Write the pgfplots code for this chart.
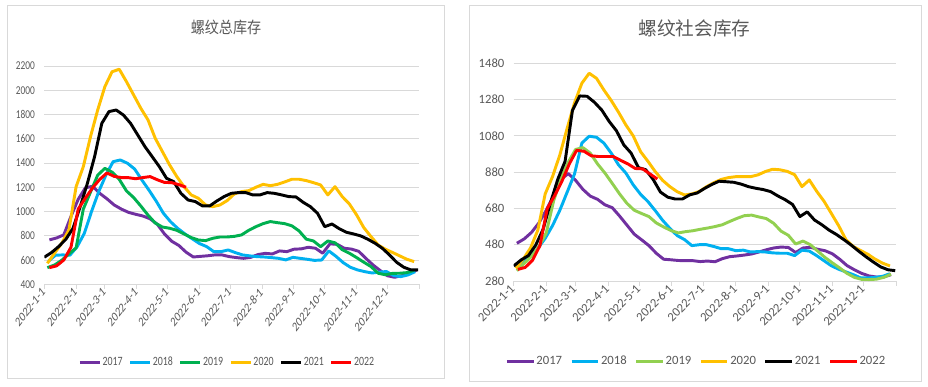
\documentclass[border=0pt]{standalone}
\usepackage{fontspec}
\setmainfont{Carlito}
\newfontfamily\narrowfont[FakeStretch=0.78]{Carlito}
\newfontfamily\cjk{Noto Sans CJK SC}
\newfontfamily\cjknarrow[FakeStretch=0.88]{Noto Sans CJK SC}
\usepackage{pgfplots}
\pgfplotsset{compat=1.18}
\definecolor{c17}{HTML}{7030A0}
\definecolor{c18}{HTML}{00B0F0}
\definecolor{c19a}{HTML}{00B050}
\definecolor{c19b}{HTML}{92D050}
\definecolor{c20}{HTML}{FFC000}
\definecolor{c22}{HTML}{FF0000}
\definecolor{txt}{HTML}{595959}
\definecolor{gridc}{HTML}{D9D9D9}
\pgfplotsset{
  mybase/.style={
    scale only axis,
    xmin=0, xmax=365,
    xtick={0,31,59,90,120,151,181,212,243,273,304,334},
    xticklabels={2022-1-1,2022-2-1,2022-3-1,2022-4-1,2022-5-1,2022-6-1,2022-7-1,2022-8-1,2022-9-1,2022-10-1,2022-11-1,2022-12-1},
    extra x ticks={365}, extra x tick labels={},
    axis x line*=bottom, axis y line*=left,
    y axis line style={draw=none},
    x axis line style={draw=gridc, line width=0.75pt, -},
    tick align=outside,
    major tick length=3.5pt,
    xtick style={draw=gridc, line width=0.75pt},
    ytick style={draw=none},
    ymajorgrids, grid style={draw=gridc, line width=0.75pt},
    scaled y ticks=false,
    /pgf/number format/1000 sep={},
    /pgf/number format/assume math mode=true,
    ticklabel style={text=txt},
    legend columns=6,
    legend cell align=left,
    every axis plot/.append style={line width=2.2pt, line join=round, mark=none},
  }
}
\begin{document}
\begin{tikzpicture}[x=0.75pt,y=0.75pt]
\fill[white] (0,0) rectangle (928,386);
\draw[gridc, line width=0.75pt] (7,8) rectangle (444,380);
\draw[gridc, line width=0.75pt] (469,5) rectangle (921,380);
\node[text=txt, font=\cjknarrow\fontsize{12}{14}\selectfont] at (226,358.5) {螺纹总库存};
\node[text=txt, font=\cjk\fontsize{14}{16}\selectfont] at (694.5,358) {螺纹社会库存};

% ---------------- left panel ----------------
\begin{axis}[mybase,
  at={(33.2pt,76.3pt)}, anchor=south west,
  width=281.25pt, height=163.7pt,
  ymin=400, ymax=2200, ytick={400,600,...,2200},
  yticklabel style={font=\narrowfont\fontsize{9}{10}\selectfont},
  xticklabel style={font=\fontsize{10}{12}\selectfont, xscale=0.77, rotate=45, anchor=east, inner sep=1pt},
  legend style={at={(0.487,-0.358)}, anchor=center, draw=none, fill=none,
    font=\narrowfont\fontsize{9.5}{10}\selectfont, text=txt,
    nodes={inner xsep=1pt},
    /tikz/every odd column/.append style={column sep=0pt},
    /tikz/every even column/.append style={column sep=3.5pt}},
  legend image code/.code={\draw[#1] (0pt,0pt) -- (15pt,0pt);},
]
\addplot[c17] coordinates {(5,766)(12,782)(19,807)(26,960)(33,1100)(40,1195)(47,1208)(54,1150)(61,1105)(68,1054)(75,1020)(82,993)(89,977)(96,963)(103,940)(110,895)(117,815)(124,755)(131,720)(138,665)(145,625)(152,630)(159,635)(166,642)(173,642)(180,628)(187,620)(194,614)(201,622)(208,645)(215,655)(222,650)(229,675)(236,669)(243,689)(250,692)(257,705)(264,697)(271,656)(278,733)(285,730)(292,697)(299,690)(306,672)(313,614)(320,559)(327,513)(334,470)(341,458)(348,470)(355,490)(362,515)};
\addlegendentry{2017}
\addplot[c18] coordinates {(4,590)(11,640)(18,642)(25,640)(32,710)(39,820)(46,1000)(53,1164)(60,1300)(67,1411)(74,1425)(81,1398)(88,1350)(95,1260)(102,1175)(109,1085)(116,985)(123,915)(130,860)(137,815)(144,775)(151,736)(158,711)(165,669)(172,669)(179,683)(186,661)(193,642)(200,634)(207,628)(214,625)(221,620)(228,614)(235,601)(242,622)(249,614)(256,606)(263,597)(270,600)(277,675)(284,630)(291,578)(298,540)(305,518)(312,504)(319,493)(326,500)(333,505)(340,472)(347,463)(354,477)(361,504)};
\addlegendentry{2018}
\addplot[c19a] coordinates {(3,537)(10,559)(17,598)(24,650)(31,700)(38,1020)(45,1160)(52,1300)(59,1356)(66,1325)(73,1265)(80,1170)(87,1115)(94,1045)(101,970)(108,905)(115,872)(122,862)(129,845)(136,815)(143,785)(150,765)(157,760)(164,779)(171,790)(178,790)(185,795)(192,807)(199,845)(206,875)(213,900)(220,917)(227,908)(234,900)(241,882)(248,840)(255,772)(262,757)(269,710)(276,757)(283,742)(290,685)(297,656)(304,620)(311,582)(318,546)(325,491)(332,478)(339,490)(346,491)(353,496)(360,515)};
\addlegendentry{2019}
\addplot[c20] coordinates {(3,573)(10,656)(17,738)(24,848)(31,1205)(38,1370)(45,1617)(52,1837)(59,2030)(66,2153)(73,2173)(80,2071)(87,1961)(94,1851)(101,1755)(108,1604)(115,1494)(122,1384)(129,1288)(136,1205)(143,1137)(150,1109)(157,1054)(164,1040)(171,1054)(178,1090)(185,1145)(192,1164)(199,1172)(206,1200)(213,1224)(220,1213)(227,1224)(234,1244)(241,1266)(248,1266)(255,1255)(262,1238)(269,1219)(276,1137)(283,1205)(290,1123)(297,1062)(304,972)(311,867)(318,793)(325,724)(332,689)(339,662)(346,634)(353,606)(360,587)};
\addlegendentry{2020}
\addplot[black] coordinates {(0,623)(7,661)(14,711)(21,771)(28,862)(35,1040)(42,1233)(49,1453)(56,1727)(63,1824)(70,1837)(77,1796)(84,1727)(91,1631)(98,1535)(105,1453)(112,1370)(119,1274)(126,1246)(133,1150)(140,1095)(147,1082)(154,1046)(161,1046)(168,1087)(175,1123)(182,1150)(189,1156)(196,1156)(203,1137)(210,1137)(217,1156)(224,1150)(231,1137)(238,1123)(245,1120)(252,1076)(259,1040)(266,985)(273,875)(280,897)(287,859)(294,829)(301,815)(308,799)(315,771)(322,738)(329,697)(336,642)(343,581)(350,540)(357,518)(364,518)};
\addlegendentry{2021}
\addplot[c22] coordinates {(5,537)(12,552)(19,600)(26,705)(33,1020)(40,1110)(47,1195)(54,1265)(61,1318)(68,1290)(75,1280)(82,1279)(89,1270)(96,1280)(103,1288)(110,1262)(117,1240)(124,1238)(131,1222)(138,1200)};
\addlegendentry{2022}
\end{axis}

% ---------------- right panel ----------------
\begin{axis}[mybase,
  at={(385.3pt,78.75pt)}, anchor=south west,
  width=286.9pt, height=163.3pt,
  ymin=280, ymax=1480, ytick={280,480,...,1480},
  yticklabel style={font=\fontsize{9.5}{11}\selectfont},
  xticklabel style={font=\fontsize{9.5}{11}\selectfont, rotate=45, anchor=east, inner sep=1pt},
  legend style={at={(0.4765,-0.37)}, anchor=center, draw=none, fill=none,
    font=\fontsize{9.5}{11}\selectfont, text=txt,
    nodes={inner xsep=1pt},
    /tikz/every odd column/.append style={column sep=0pt},
    /tikz/every even column/.append style={column sep=5pt}},
  legend image code/.code={\draw[#1] (0pt,0pt) -- (20pt,0pt);},
]
\addplot[c17] coordinates {(3,488)(10,512)(17,548)(24,600)(31,670)(38,750)(45,840)(52,872)(59,835)(66,785)(73,748)(80,730)(87,700)(94,684)(101,638)(108,588)(115,538)(122,507)(129,475)(136,433)(143,400)(150,397)(157,393)(164,392)(171,392)(178,387)(185,390)(192,386)(199,403)(206,414)(213,418)(220,423)(227,429)(234,440)(241,452)(248,462)(255,467)(262,465)(269,437)(276,462)(283,466)(290,455)(297,447)(304,430)(311,400)(318,365)(325,342)(332,322)(339,308)(346,302)(353,302)(360,315)};
\addlegendentry{2017}
\addplot[c18] coordinates {(2,355)(9,388)(16,414)(23,460)(30,515)(37,585)(44,670)(51,770)(58,870)(65,1040)(72,1078)(79,1072)(86,1040)(93,985)(100,920)(107,875)(114,810)(121,758)(128,718)(135,668)(142,615)(149,570)(156,530)(163,508)(170,475)(177,480)(184,480)(191,470)(198,458)(205,458)(212,447)(219,450)(226,440)(233,442)(240,440)(247,435)(254,433)(261,433)(268,420)(275,450)(282,445)(289,420)(296,392)(303,364)(310,345)(317,330)(324,315)(331,297)(338,297)(345,300)(352,306)(359,320)};
\addlegendentry{2018}
\addplot[c19b] coordinates {(3,337)(10,377)(17,416)(24,470)(31,545)(38,720)(45,845)(52,935)(59,1005)(66,1015)(73,985)(80,925)(87,875)(94,818)(101,760)(108,708)(115,670)(122,652)(129,635)(136,600)(143,578)(150,558)(157,545)(164,552)(171,557)(178,565)(185,572)(192,580)(199,590)(206,608)(213,625)(220,640)(227,643)(234,633)(241,624)(248,598)(255,555)(262,532)(269,484)(276,500)(283,480)(290,445)(297,410)(304,380)(311,352)(318,322)(325,300)(332,289)(339,288)(346,290)(353,300)(360,318)};
\addlegendentry{2019}
\addplot[c20] coordinates {(2,350)(9,400)(16,462)(23,560)(30,760)(37,855)(44,975)(51,1122)(58,1262)(65,1370)(72,1425)(79,1397)(86,1333)(93,1275)(100,1210)(107,1140)(114,1080)(121,993)(128,940)(135,883)(142,835)(149,800)(156,772)(163,754)(170,760)(177,773)(184,800)(191,822)(198,840)(205,850)(212,855)(219,855)(226,855)(233,865)(240,883)(247,896)(254,893)(261,884)(268,866)(275,800)(282,837)(289,775)(296,720)(303,653)(310,585)(317,508)(324,470)(331,448)(338,427)(345,400)(352,378)(359,363)};
\addlegendentry{2020}
\addplot[black] coordinates {(0,363)(7,396)(14,420)(21,478)(28,565)(35,710)(42,840)(49,940)(56,1220)(63,1300)(70,1298)(77,1265)(84,1222)(91,1160)(98,1108)(105,1030)(112,985)(119,905)(126,893)(133,840)(140,770)(147,742)(154,732)(161,732)(168,755)(175,765)(182,790)(189,812)(196,830)(203,827)(210,824)(217,814)(224,800)(231,791)(238,784)(245,773)(252,749)(259,728)(266,702)(273,635)(280,661)(287,616)(294,590)(301,560)(308,536)(315,508)(322,478)(329,445)(336,414)(343,385)(350,358)(357,342)(364,337)};
\addlegendentry{2021}
\addplot[c22] coordinates {(4,344)(11,355)(18,395)(25,475)(32,680)(39,750)(46,830)(53,925)(60,1000)(67,995)(74,970)(81,966)(88,966)(95,966)(102,945)(109,925)(116,900)(123,898)(130,870)(137,842)};
\addlegendentry{2022}
\end{axis}
\end{tikzpicture}
\end{document}
